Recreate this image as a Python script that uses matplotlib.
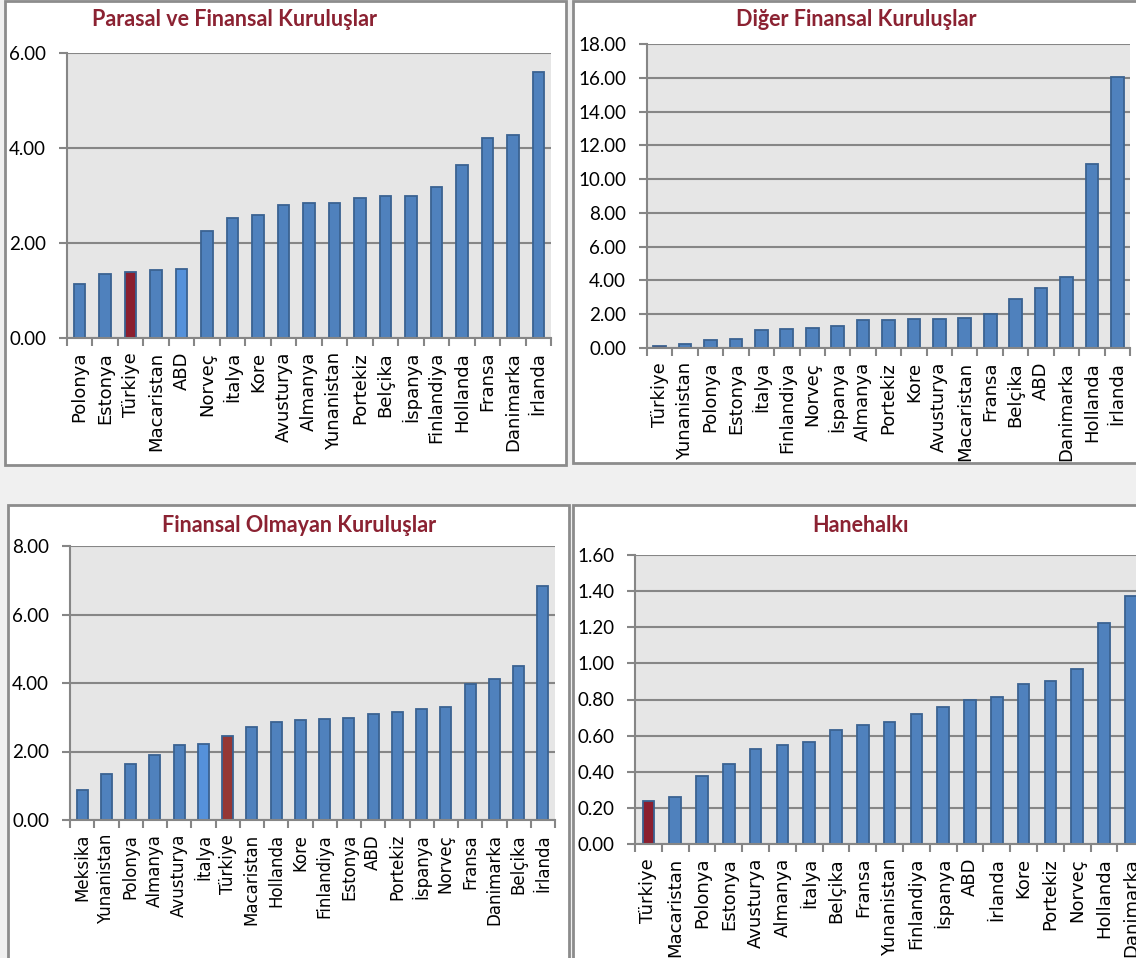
import matplotlib
matplotlib.use("Agg")
import matplotlib.pyplot as plt
from matplotlib.patches import Rectangle
import numpy as np

# ---------------- data ----------------
p1_title = "Parasal ve Finansal Kuruluşlar"
p1_cats = ["Polonya", "Estonya", "Türkiye", "Macaristan", "ABD", "Norveç", "İtalya", "Kore",
           "Avusturya", "Almanya", "Yunanistan", "Portekiz", "Belçika", "İspanya", "Finlandiya",
           "Hollanda", "Fransa", "Danimarka", "İrlanda"]
p1_vals = [1.13, 1.35, 1.39, 1.43, 1.45, 2.25, 2.52, 2.60, 2.79, 2.85, 2.85, 2.95, 2.98, 2.99,
           3.18, 3.65, 4.22, 4.27, 5.61]
p1_ticks = [0, 2, 4, 6]

p2_title = "Diğer Finansal Kuruluşlar"
p2_cats = ["Türkiye", "Yunanistan", "Polonya", "Estonya", "İtalya", "Finlandiya", "Norveç",
           "İspanya", "Almanya", "Portekiz", "Kore", "Avusturya", "Macaristan", "Fransa",
           "Belçika", "ABD", "Danimarka", "Hollanda", "İrlanda"]
p2_vals = [0.12, 0.24, 0.47, 0.51, 1.07, 1.14, 1.18, 1.30, 1.68, 1.68, 1.70, 1.72, 1.76, 2.01,
           2.92, 3.53, 4.20, 10.89, 16.06]
p2_ticks = [0, 2, 4, 6, 8, 10, 12, 14, 16, 18]

p3_title = "Finansal Olmayan Kuruluşlar"
p3_cats = ["Meksika", "Yunanistan", "Polonya", "Almanya", "Avusturya", "İtalya", "Türkiye",
           "Macaristan", "Hollanda", "Kore", "Finlandiya", "Estonya", "ABD", "Portekiz",
           "İspanya", "Norveç", "Fransa", "Danimarka", "Belçika", "İrlanda"]
p3_vals = [0.88, 1.33, 1.63, 1.91, 2.18, 2.21, 2.46, 2.71, 2.86, 2.93, 2.95, 2.97, 3.10, 3.16,
           3.25, 3.29, 3.98, 4.12, 4.51, 6.83]
p3_ticks = [0, 2, 4, 6, 8]

p4_title = "Hanehalkı"
p4_cats = ["Türkiye", "Macaristan", "Polonya", "Estonya", "Avusturya", "Almanya", "İtalya",
           "Belçika", "Fransa", "Yunanistan", "Finlandiya", "İspanya", "ABD", "İrlanda", "Kore",
           "Portekiz", "Norveç", "Hollanda", "Danimarka"]
p4_vals = [0.236, 0.262, 0.378, 0.442, 0.525, 0.546, 0.564, 0.630, 0.660, 0.675, 0.717, 0.761,
           0.798, 0.813, 0.887, 0.905, 0.971, 1.224, 1.375]
p4_ticks = [0.0, 0.2, 0.4, 0.6, 0.8, 1.0, 1.2, 1.4, 1.6]

# ---------------- style ----------------
W, H = 1136, 958
BLUE = "#4F81BD"
EDGE = "#3A6291"
LIGHT = "#5591DA"
RED1 = "#8B1F2F"
RED3 = "#953735"
PLOT_BG = "#E6E6E6"
GRID = "#868686"
TITLE_C = "#8B2232"

fig = plt.figure(figsize=(W / 100, H / 100), dpi=100)
fig.patch.set_facecolor("#F0F0F0")


def box(x0, y0, x1, y1):
    r = Rectangle((x0 / W, 1 - y1 / H), (x1 - x0) / W, (y1 - y0) / H,
                  transform=fig.transFigure, facecolor="white", edgecolor="#8C8C8C",
                  linewidth=2, zorder=-5)
    fig.patches.append(r)


box(5, 1, 566, 465)
box(573, 1, 1140, 463)
box(8, 505, 569, 965)
box(573, 505, 1140, 965)


def panel(x0, y0, x1, y1, cats, vals, ticks, title, tx, ty, red, light=None,
          xfs=13, bw=0.45):
    ax = fig.add_axes([x0 / W, 1 - y1 / H, (x1 - x0) / W, (y1 - y0) / H])
    ax.set_facecolor(PLOT_BG)
    n = len(cats)
    x = np.arange(n)
    colors = [red if c == "Türkiye" else (LIGHT if c == light else BLUE) for c in cats]
    ax.bar(x, vals, width=bw, color=colors, edgecolor=EDGE, linewidth=1.3, zorder=3)
    ax.set_xlim(-0.5, n - 0.5)
    ax.set_ylim(ticks[0], ticks[-1])
    ax.set_yticks(ticks)
    ax.set_yticklabels([f"{t:.2f}" for t in ticks], fontfamily="Lato", fontsize=13.5)
    ax.set_xticks(x)
    ax.set_xticklabels(cats, rotation=90, fontfamily="DejaVu Sans", fontsize=xfs, va="top")
    ax.set_xticks(np.arange(n + 1) - 0.5, minor=True)
    ax.tick_params(axis="x", which="major", length=0, pad=10)
    ax.tick_params(axis="x", which="minor", length=6, width=1.5, color=GRID, direction="out")
    ax.tick_params(axis="y", length=6, width=1.5, color=GRID, pad=9)
    ax.yaxis.grid(True, color=GRID, linewidth=1.5, zorder=1)
    ax.set_axisbelow(True)
    for s in ["top", "right"]:
        ax.spines[s].set_visible(False)
    for s in ["left", "bottom"]:
        ax.spines[s].set_color(GRID)
        ax.spines[s].set_linewidth(1.5)
        ax.spines[s].set_zorder(4)
    fig.text(tx / W, 1 - ty / H, title, ha="center", va="center", fontfamily="Lato",
             fontweight="bold", fontsize=15.5, color=TITLE_C)
    return ax


panel(67, 53, 551, 338, p1_cats, p1_vals, p1_ticks, p1_title, 234, 20, RED1, light="ABD")
panel(647, 44, 1130, 348, p2_cats, p2_vals, p2_ticks, p2_title, 856, 20, RED1, bw=0.5)
panel(70, 546, 555, 820, p3_cats, p3_vals, p3_ticks, p3_title, 299, 526, RED3, light="İtalya",
      xfs=12)
panel(635, 555, 635 + 19 * 26.8, 844, p4_cats, p4_vals, p4_ticks, p4_title, 860, 525, RED1,
      bw=0.43)

fig.savefig("out.png", dpi=100, facecolor=fig.get_facecolor())
